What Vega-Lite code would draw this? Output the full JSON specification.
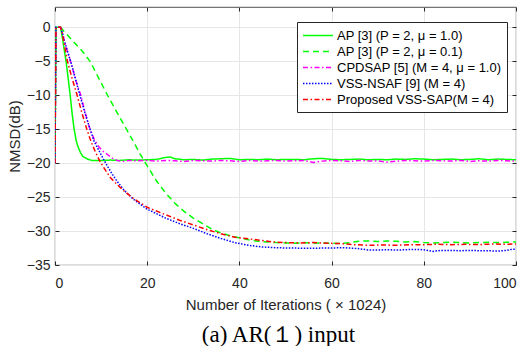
{
  "$schema": "https://vega.github.io/schema/vega-lite/v6.json",
  "width": 461,
  "height": 258,
  "autosize": {"type": "none"},
  "padding": {"left": 55, "top": 7, "right": 12, "bottom": 81},
  "config": {
    "view": {"stroke": "#262626", "strokeWidth": 0.8},
    "font": "Liberation Sans",
    "axis": {
      "labelFont": "Liberation Sans", "labelFontSize": 14, "labelColor": "#262626",
      "titleFont": "Liberation Sans", "titleFontSize": 15, "titleFontWeight": "normal", "titleColor": "#262626",
      "tickColor": "#262626", "domain": false, "gridColor": "#e6e6e6", "gridWidth": 1
    }
  },
  "title": {"text": "(a) AR(１) input", "orient": "bottom", "font": "Liberation Serif", "fontSize": 23, "fontWeight": "normal", "color": "black", "offset": 12, "dx": -7},
  "data": {"values": [
    {"s": "AP [3] (P = 2, μ = 1.0)", "x": 0, "y": -20},
    {"s": "AP [3] (P = 2, μ = 1.0)", "x": 0.2, "y": 0},
    {"s": "AP [3] (P = 2, μ = 1.0)", "x": 1.2, "y": 0},
    {"s": "AP [3] (P = 2, μ = 1.0)", "x": 1.6, "y": -1.5},
    {"s": "AP [3] (P = 2, μ = 1.0)", "x": 2, "y": -3.3},
    {"s": "AP [3] (P = 2, μ = 1.0)", "x": 2.4, "y": -5},
    {"s": "AP [3] (P = 2, μ = 1.0)", "x": 2.8, "y": -7.2},
    {"s": "AP [3] (P = 2, μ = 1.0)", "x": 3.3, "y": -10},
    {"s": "AP [3] (P = 2, μ = 1.0)", "x": 3.7, "y": -12.6},
    {"s": "AP [3] (P = 2, μ = 1.0)", "x": 4.15, "y": -15},
    {"s": "AP [3] (P = 2, μ = 1.0)", "x": 4.6, "y": -16.7},
    {"s": "AP [3] (P = 2, μ = 1.0)", "x": 5, "y": -17.6},
    {"s": "AP [3] (P = 2, μ = 1.0)", "x": 5.5, "y": -18.4},
    {"s": "AP [3] (P = 2, μ = 1.0)", "x": 6, "y": -19},
    {"s": "AP [3] (P = 2, μ = 1.0)", "x": 7, "y": -19.4},
    {"s": "AP [3] (P = 2, μ = 1.0)", "x": 8, "y": -19.6},
    {"s": "AP [3] (P = 2, μ = 1.0)", "x": 10, "y": -19.6},
    {"s": "AP [3] (P = 2, μ = 1.0)", "x": 12, "y": -19.55},
    {"s": "AP [3] (P = 2, μ = 1.0)", "x": 14, "y": -19.6},
    {"s": "AP [3] (P = 2, μ = 1.0)", "x": 16, "y": -19.5},
    {"s": "AP [3] (P = 2, μ = 1.0)", "x": 18, "y": -19.55},
    {"s": "AP [3] (P = 2, μ = 1.0)", "x": 20, "y": -19.5},
    {"s": "AP [3] (P = 2, μ = 1.0)", "x": 22, "y": -19.45},
    {"s": "AP [3] (P = 2, μ = 1.0)", "x": 24, "y": -19.15},
    {"s": "AP [3] (P = 2, μ = 1.0)", "x": 25, "y": -19.1},
    {"s": "AP [3] (P = 2, μ = 1.0)", "x": 26, "y": -19.35},
    {"s": "AP [3] (P = 2, μ = 1.0)", "x": 28, "y": -19.5},
    {"s": "AP [3] (P = 2, μ = 1.0)", "x": 30, "y": -19.45},
    {"s": "AP [3] (P = 2, μ = 1.0)", "x": 32, "y": -19.55},
    {"s": "AP [3] (P = 2, μ = 1.0)", "x": 34, "y": -19.4},
    {"s": "AP [3] (P = 2, μ = 1.0)", "x": 36, "y": -19.35},
    {"s": "AP [3] (P = 2, μ = 1.0)", "x": 38, "y": -19.3},
    {"s": "AP [3] (P = 2, μ = 1.0)", "x": 40, "y": -19.5},
    {"s": "AP [3] (P = 2, μ = 1.0)", "x": 42, "y": -19.45},
    {"s": "AP [3] (P = 2, μ = 1.0)", "x": 44, "y": -19.5},
    {"s": "AP [3] (P = 2, μ = 1.0)", "x": 46, "y": -19.4},
    {"s": "AP [3] (P = 2, μ = 1.0)", "x": 48, "y": -19.5},
    {"s": "AP [3] (P = 2, μ = 1.0)", "x": 50, "y": -19.45},
    {"s": "AP [3] (P = 2, μ = 1.0)", "x": 52, "y": -19.45},
    {"s": "AP [3] (P = 2, μ = 1.0)", "x": 54, "y": -19.5},
    {"s": "AP [3] (P = 2, μ = 1.0)", "x": 56, "y": -19.35},
    {"s": "AP [3] (P = 2, μ = 1.0)", "x": 58, "y": -19.3},
    {"s": "AP [3] (P = 2, μ = 1.0)", "x": 60, "y": -19.45},
    {"s": "AP [3] (P = 2, μ = 1.0)", "x": 62, "y": -19.5},
    {"s": "AP [3] (P = 2, μ = 1.0)", "x": 64, "y": -19.45},
    {"s": "AP [3] (P = 2, μ = 1.0)", "x": 66, "y": -19.4},
    {"s": "AP [3] (P = 2, μ = 1.0)", "x": 68, "y": -19.5},
    {"s": "AP [3] (P = 2, μ = 1.0)", "x": 70, "y": -19.45},
    {"s": "AP [3] (P = 2, μ = 1.0)", "x": 72, "y": -19.5},
    {"s": "AP [3] (P = 2, μ = 1.0)", "x": 74, "y": -19.4},
    {"s": "AP [3] (P = 2, μ = 1.0)", "x": 76, "y": -19.45},
    {"s": "AP [3] (P = 2, μ = 1.0)", "x": 78, "y": -19.35},
    {"s": "AP [3] (P = 2, μ = 1.0)", "x": 80, "y": -19.4},
    {"s": "AP [3] (P = 2, μ = 1.0)", "x": 82, "y": -19.5},
    {"s": "AP [3] (P = 2, μ = 1.0)", "x": 84, "y": -19.45},
    {"s": "AP [3] (P = 2, μ = 1.0)", "x": 86, "y": -19.4},
    {"s": "AP [3] (P = 2, μ = 1.0)", "x": 88, "y": -19.5},
    {"s": "AP [3] (P = 2, μ = 1.0)", "x": 90, "y": -19.45},
    {"s": "AP [3] (P = 2, μ = 1.0)", "x": 92, "y": -19.35},
    {"s": "AP [3] (P = 2, μ = 1.0)", "x": 94, "y": -19.5},
    {"s": "AP [3] (P = 2, μ = 1.0)", "x": 96, "y": -19.4},
    {"s": "AP [3] (P = 2, μ = 1.0)", "x": 98, "y": -19.45},
    {"s": "AP [3] (P = 2, μ = 1.0)", "x": 100, "y": -19.5},

    {"s": "AP [3] (P = 2, μ = 0.1)", "x": 0, "y": -20},
    {"s": "AP [3] (P = 2, μ = 0.1)", "x": 0.2, "y": 0},
    {"s": "AP [3] (P = 2, μ = 0.1)", "x": 1.2, "y": 0},
    {"s": "AP [3] (P = 2, μ = 0.1)", "x": 2, "y": -0.6},
    {"s": "AP [3] (P = 2, μ = 0.1)", "x": 4, "y": -2.1},
    {"s": "AP [3] (P = 2, μ = 0.1)", "x": 5.8, "y": -3.4},
    {"s": "AP [3] (P = 2, μ = 0.1)", "x": 7.6, "y": -5},
    {"s": "AP [3] (P = 2, μ = 0.1)", "x": 9.5, "y": -7.5},
    {"s": "AP [3] (P = 2, μ = 0.1)", "x": 11.4, "y": -10},
    {"s": "AP [3] (P = 2, μ = 0.1)", "x": 13.5, "y": -12.6},
    {"s": "AP [3] (P = 2, μ = 0.1)", "x": 15.5, "y": -15},
    {"s": "AP [3] (P = 2, μ = 0.1)", "x": 17, "y": -16.8},
    {"s": "AP [3] (P = 2, μ = 0.1)", "x": 18.5, "y": -18.7},
    {"s": "AP [3] (P = 2, μ = 0.1)", "x": 20, "y": -20.4},
    {"s": "AP [3] (P = 2, μ = 0.1)", "x": 22, "y": -22.6},
    {"s": "AP [3] (P = 2, μ = 0.1)", "x": 24, "y": -24.4},
    {"s": "AP [3] (P = 2, μ = 0.1)", "x": 26, "y": -25.9},
    {"s": "AP [3] (P = 2, μ = 0.1)", "x": 28, "y": -27.1},
    {"s": "AP [3] (P = 2, μ = 0.1)", "x": 30, "y": -28.1},
    {"s": "AP [3] (P = 2, μ = 0.1)", "x": 32, "y": -28.9},
    {"s": "AP [3] (P = 2, μ = 0.1)", "x": 34, "y": -29.7},
    {"s": "AP [3] (P = 2, μ = 0.1)", "x": 36, "y": -30.3},
    {"s": "AP [3] (P = 2, μ = 0.1)", "x": 38, "y": -30.7},
    {"s": "AP [3] (P = 2, μ = 0.1)", "x": 40, "y": -31.0},
    {"s": "AP [3] (P = 2, μ = 0.1)", "x": 42, "y": -31.3},
    {"s": "AP [3] (P = 2, μ = 0.1)", "x": 44, "y": -31.5},
    {"s": "AP [3] (P = 2, μ = 0.1)", "x": 46, "y": -31.6},
    {"s": "AP [3] (P = 2, μ = 0.1)", "x": 48, "y": -31.7},
    {"s": "AP [3] (P = 2, μ = 0.1)", "x": 50, "y": -31.75},
    {"s": "AP [3] (P = 2, μ = 0.1)", "x": 52, "y": -31.8},
    {"s": "AP [3] (P = 2, μ = 0.1)", "x": 54, "y": -31.7},
    {"s": "AP [3] (P = 2, μ = 0.1)", "x": 56, "y": -31.8},
    {"s": "AP [3] (P = 2, μ = 0.1)", "x": 58, "y": -31.75},
    {"s": "AP [3] (P = 2, μ = 0.1)", "x": 60, "y": -31.8},
    {"s": "AP [3] (P = 2, μ = 0.1)", "x": 62, "y": -31.85},
    {"s": "AP [3] (P = 2, μ = 0.1)", "x": 64, "y": -31.7},
    {"s": "AP [3] (P = 2, μ = 0.1)", "x": 66, "y": -31.5},
    {"s": "AP [3] (P = 2, μ = 0.1)", "x": 68, "y": -31.45},
    {"s": "AP [3] (P = 2, μ = 0.1)", "x": 70, "y": -31.55},
    {"s": "AP [3] (P = 2, μ = 0.1)", "x": 72, "y": -31.45},
    {"s": "AP [3] (P = 2, μ = 0.1)", "x": 74, "y": -31.5},
    {"s": "AP [3] (P = 2, μ = 0.1)", "x": 76, "y": -31.6},
    {"s": "AP [3] (P = 2, μ = 0.1)", "x": 78, "y": -31.55},
    {"s": "AP [3] (P = 2, μ = 0.1)", "x": 80, "y": -31.7},
    {"s": "AP [3] (P = 2, μ = 0.1)", "x": 82, "y": -31.75},
    {"s": "AP [3] (P = 2, μ = 0.1)", "x": 84, "y": -31.7},
    {"s": "AP [3] (P = 2, μ = 0.1)", "x": 86, "y": -31.65},
    {"s": "AP [3] (P = 2, μ = 0.1)", "x": 88, "y": -31.7},
    {"s": "AP [3] (P = 2, μ = 0.1)", "x": 90, "y": -31.75},
    {"s": "AP [3] (P = 2, μ = 0.1)", "x": 92, "y": -31.7},
    {"s": "AP [3] (P = 2, μ = 0.1)", "x": 94, "y": -31.65},
    {"s": "AP [3] (P = 2, μ = 0.1)", "x": 96, "y": -31.7},
    {"s": "AP [3] (P = 2, μ = 0.1)", "x": 98, "y": -31.65},
    {"s": "AP [3] (P = 2, μ = 0.1)", "x": 100, "y": -31.6},

    {"s": "CPDSAP [5] (M = 4, μ = 1.0)", "x": 0, "y": -20},
    {"s": "CPDSAP [5] (M = 4, μ = 1.0)", "x": 0.2, "y": 0},
    {"s": "CPDSAP [5] (M = 4, μ = 1.0)", "x": 1.2, "y": 0},
    {"s": "CPDSAP [5] (M = 4, μ = 1.0)", "x": 1.6, "y": -0.8},
    {"s": "CPDSAP [5] (M = 4, μ = 1.0)", "x": 2, "y": -1.9},
    {"s": "CPDSAP [5] (M = 4, μ = 1.0)", "x": 2.8, "y": -3.8},
    {"s": "CPDSAP [5] (M = 4, μ = 1.0)", "x": 3.6, "y": -5.5},
    {"s": "CPDSAP [5] (M = 4, μ = 1.0)", "x": 4.5, "y": -7.8},
    {"s": "CPDSAP [5] (M = 4, μ = 1.0)", "x": 5.6, "y": -10},
    {"s": "CPDSAP [5] (M = 4, μ = 1.0)", "x": 6.5, "y": -12.5},
    {"s": "CPDSAP [5] (M = 4, μ = 1.0)", "x": 7.5, "y": -14.8},
    {"s": "CPDSAP [5] (M = 4, μ = 1.0)", "x": 8.5, "y": -16.5},
    {"s": "CPDSAP [5] (M = 4, μ = 1.0)", "x": 9.5, "y": -17.6},
    {"s": "CPDSAP [5] (M = 4, μ = 1.0)", "x": 10.5, "y": -18.3},
    {"s": "CPDSAP [5] (M = 4, μ = 1.0)", "x": 11.5, "y": -18.8},
    {"s": "CPDSAP [5] (M = 4, μ = 1.0)", "x": 12.5, "y": -19.3},
    {"s": "CPDSAP [5] (M = 4, μ = 1.0)", "x": 13.5, "y": -19.6},
    {"s": "CPDSAP [5] (M = 4, μ = 1.0)", "x": 15, "y": -19.75},
    {"s": "CPDSAP [5] (M = 4, μ = 1.0)", "x": 16, "y": -19.6},
    {"s": "CPDSAP [5] (M = 4, μ = 1.0)", "x": 18, "y": -19.65},
    {"s": "CPDSAP [5] (M = 4, μ = 1.0)", "x": 20, "y": -19.6},
    {"s": "CPDSAP [5] (M = 4, μ = 1.0)", "x": 22, "y": -19.7},
    {"s": "CPDSAP [5] (M = 4, μ = 1.0)", "x": 24, "y": -19.6},
    {"s": "CPDSAP [5] (M = 4, μ = 1.0)", "x": 26, "y": -19.65},
    {"s": "CPDSAP [5] (M = 4, μ = 1.0)", "x": 28, "y": -19.75},
    {"s": "CPDSAP [5] (M = 4, μ = 1.0)", "x": 30, "y": -19.6},
    {"s": "CPDSAP [5] (M = 4, μ = 1.0)", "x": 32, "y": -19.65},
    {"s": "CPDSAP [5] (M = 4, μ = 1.0)", "x": 34, "y": -19.7},
    {"s": "CPDSAP [5] (M = 4, μ = 1.0)", "x": 36, "y": -19.6},
    {"s": "CPDSAP [5] (M = 4, μ = 1.0)", "x": 38, "y": -19.65},
    {"s": "CPDSAP [5] (M = 4, μ = 1.0)", "x": 40, "y": -19.75},
    {"s": "CPDSAP [5] (M = 4, μ = 1.0)", "x": 42, "y": -19.6},
    {"s": "CPDSAP [5] (M = 4, μ = 1.0)", "x": 44, "y": -19.7},
    {"s": "CPDSAP [5] (M = 4, μ = 1.0)", "x": 46, "y": -19.65},
    {"s": "CPDSAP [5] (M = 4, μ = 1.0)", "x": 48, "y": -19.6},
    {"s": "CPDSAP [5] (M = 4, μ = 1.0)", "x": 50, "y": -19.7},
    {"s": "CPDSAP [5] (M = 4, μ = 1.0)", "x": 52, "y": -19.65},
    {"s": "CPDSAP [5] (M = 4, μ = 1.0)", "x": 54, "y": -19.6},
    {"s": "CPDSAP [5] (M = 4, μ = 1.0)", "x": 56, "y": -19.9},
    {"s": "CPDSAP [5] (M = 4, μ = 1.0)", "x": 58, "y": -19.7},
    {"s": "CPDSAP [5] (M = 4, μ = 1.0)", "x": 60, "y": -19.6},
    {"s": "CPDSAP [5] (M = 4, μ = 1.0)", "x": 62, "y": -19.65},
    {"s": "CPDSAP [5] (M = 4, μ = 1.0)", "x": 64, "y": -19.75},
    {"s": "CPDSAP [5] (M = 4, μ = 1.0)", "x": 66, "y": -19.6},
    {"s": "CPDSAP [5] (M = 4, μ = 1.0)", "x": 68, "y": -19.7},
    {"s": "CPDSAP [5] (M = 4, μ = 1.0)", "x": 70, "y": -19.65},
    {"s": "CPDSAP [5] (M = 4, μ = 1.0)", "x": 72, "y": -19.85},
    {"s": "CPDSAP [5] (M = 4, μ = 1.0)", "x": 74, "y": -19.7},
    {"s": "CPDSAP [5] (M = 4, μ = 1.0)", "x": 76, "y": -19.6},
    {"s": "CPDSAP [5] (M = 4, μ = 1.0)", "x": 78, "y": -19.65},
    {"s": "CPDSAP [5] (M = 4, μ = 1.0)", "x": 80, "y": -19.7},
    {"s": "CPDSAP [5] (M = 4, μ = 1.0)", "x": 82, "y": -19.6},
    {"s": "CPDSAP [5] (M = 4, μ = 1.0)", "x": 84, "y": -19.65},
    {"s": "CPDSAP [5] (M = 4, μ = 1.0)", "x": 86, "y": -19.7},
    {"s": "CPDSAP [5] (M = 4, μ = 1.0)", "x": 88, "y": -19.6},
    {"s": "CPDSAP [5] (M = 4, μ = 1.0)", "x": 90, "y": -19.75},
    {"s": "CPDSAP [5] (M = 4, μ = 1.0)", "x": 92, "y": -19.65},
    {"s": "CPDSAP [5] (M = 4, μ = 1.0)", "x": 94, "y": -19.7},
    {"s": "CPDSAP [5] (M = 4, μ = 1.0)", "x": 96, "y": -19.6},
    {"s": "CPDSAP [5] (M = 4, μ = 1.0)", "x": 98, "y": -19.65},
    {"s": "CPDSAP [5] (M = 4, μ = 1.0)", "x": 100, "y": -19.7},

    {"s": "VSS-NSAF [9] (M = 4)", "x": 0, "y": -20},
    {"s": "VSS-NSAF [9] (M = 4)", "x": 0.2, "y": 0},
    {"s": "VSS-NSAF [9] (M = 4)", "x": 1.2, "y": 0},
    {"s": "VSS-NSAF [9] (M = 4)", "x": 1.6, "y": -0.8},
    {"s": "VSS-NSAF [9] (M = 4)", "x": 2, "y": -1.9},
    {"s": "VSS-NSAF [9] (M = 4)", "x": 2.7, "y": -3.5},
    {"s": "VSS-NSAF [9] (M = 4)", "x": 3.4, "y": -5},
    {"s": "VSS-NSAF [9] (M = 4)", "x": 4.4, "y": -7.5},
    {"s": "VSS-NSAF [9] (M = 4)", "x": 5.4, "y": -10},
    {"s": "VSS-NSAF [9] (M = 4)", "x": 6.5, "y": -12.6},
    {"s": "VSS-NSAF [9] (M = 4)", "x": 7.6, "y": -15},
    {"s": "VSS-NSAF [9] (M = 4)", "x": 8.5, "y": -16.8},
    {"s": "VSS-NSAF [9] (M = 4)", "x": 9.5, "y": -18.1},
    {"s": "VSS-NSAF [9] (M = 4)", "x": 10.5, "y": -19.4},
    {"s": "VSS-NSAF [9] (M = 4)", "x": 11.5, "y": -20.6},
    {"s": "VSS-NSAF [9] (M = 4)", "x": 12.5, "y": -21.7},
    {"s": "VSS-NSAF [9] (M = 4)", "x": 13.5, "y": -22.7},
    {"s": "VSS-NSAF [9] (M = 4)", "x": 15, "y": -24},
    {"s": "VSS-NSAF [9] (M = 4)", "x": 17, "y": -25.3},
    {"s": "VSS-NSAF [9] (M = 4)", "x": 20, "y": -26.8},
    {"s": "VSS-NSAF [9] (M = 4)", "x": 21, "y": -27.1},
    {"s": "VSS-NSAF [9] (M = 4)", "x": 24, "y": -28.1},
    {"s": "VSS-NSAF [9] (M = 4)", "x": 27, "y": -28.9},
    {"s": "VSS-NSAF [9] (M = 4)", "x": 30, "y": -29.6},
    {"s": "VSS-NSAF [9] (M = 4)", "x": 33, "y": -30.4},
    {"s": "VSS-NSAF [9] (M = 4)", "x": 36, "y": -31.1},
    {"s": "VSS-NSAF [9] (M = 4)", "x": 39, "y": -31.7},
    {"s": "VSS-NSAF [9] (M = 4)", "x": 42, "y": -32.1},
    {"s": "VSS-NSAF [9] (M = 4)", "x": 45, "y": -32.35},
    {"s": "VSS-NSAF [9] (M = 4)", "x": 48, "y": -32.45},
    {"s": "VSS-NSAF [9] (M = 4)", "x": 50, "y": -32.5},
    {"s": "VSS-NSAF [9] (M = 4)", "x": 52, "y": -32.5},
    {"s": "VSS-NSAF [9] (M = 4)", "x": 54, "y": -32.55},
    {"s": "VSS-NSAF [9] (M = 4)", "x": 56, "y": -32.55},
    {"s": "VSS-NSAF [9] (M = 4)", "x": 58, "y": -32.5},
    {"s": "VSS-NSAF [9] (M = 4)", "x": 60, "y": -32.5},
    {"s": "VSS-NSAF [9] (M = 4)", "x": 62, "y": -32.45},
    {"s": "VSS-NSAF [9] (M = 4)", "x": 64, "y": -32.5},
    {"s": "VSS-NSAF [9] (M = 4)", "x": 66, "y": -32.6},
    {"s": "VSS-NSAF [9] (M = 4)", "x": 68, "y": -32.8},
    {"s": "VSS-NSAF [9] (M = 4)", "x": 70, "y": -32.8},
    {"s": "VSS-NSAF [9] (M = 4)", "x": 72, "y": -32.75},
    {"s": "VSS-NSAF [9] (M = 4)", "x": 74, "y": -32.8},
    {"s": "VSS-NSAF [9] (M = 4)", "x": 76, "y": -32.75},
    {"s": "VSS-NSAF [9] (M = 4)", "x": 78, "y": -32.7},
    {"s": "VSS-NSAF [9] (M = 4)", "x": 80, "y": -32.75},
    {"s": "VSS-NSAF [9] (M = 4)", "x": 82, "y": -33.0},
    {"s": "VSS-NSAF [9] (M = 4)", "x": 83, "y": -32.9},
    {"s": "VSS-NSAF [9] (M = 4)", "x": 84, "y": -32.85},
    {"s": "VSS-NSAF [9] (M = 4)", "x": 86, "y": -32.85},
    {"s": "VSS-NSAF [9] (M = 4)", "x": 88, "y": -32.9},
    {"s": "VSS-NSAF [9] (M = 4)", "x": 90, "y": -32.85},
    {"s": "VSS-NSAF [9] (M = 4)", "x": 92, "y": -32.9},
    {"s": "VSS-NSAF [9] (M = 4)", "x": 94, "y": -32.9},
    {"s": "VSS-NSAF [9] (M = 4)", "x": 96, "y": -32.95},
    {"s": "VSS-NSAF [9] (M = 4)", "x": 98, "y": -32.85},
    {"s": "VSS-NSAF [9] (M = 4)", "x": 99, "y": -32.7},
    {"s": "VSS-NSAF [9] (M = 4)", "x": 100, "y": -32.65},

    {"s": "Proposed VSS-SAP(M = 4)", "x": 0, "y": -20},
    {"s": "Proposed VSS-SAP(M = 4)", "x": 0.2, "y": 0},
    {"s": "Proposed VSS-SAP(M = 4)", "x": 1.2, "y": 0},
    {"s": "Proposed VSS-SAP(M = 4)", "x": 1.6, "y": -0.9},
    {"s": "Proposed VSS-SAP(M = 4)", "x": 2, "y": -2.4},
    {"s": "Proposed VSS-SAP(M = 4)", "x": 2.7, "y": -5},
    {"s": "Proposed VSS-SAP(M = 4)", "x": 3.7, "y": -7.5},
    {"s": "Proposed VSS-SAP(M = 4)", "x": 4.8, "y": -10},
    {"s": "Proposed VSS-SAP(M = 4)", "x": 5.8, "y": -12.5},
    {"s": "Proposed VSS-SAP(M = 4)", "x": 6.9, "y": -15},
    {"s": "Proposed VSS-SAP(M = 4)", "x": 7.8, "y": -16.8},
    {"s": "Proposed VSS-SAP(M = 4)", "x": 8.8, "y": -18.4},
    {"s": "Proposed VSS-SAP(M = 4)", "x": 9.8, "y": -19.8},
    {"s": "Proposed VSS-SAP(M = 4)", "x": 11, "y": -21.1},
    {"s": "Proposed VSS-SAP(M = 4)", "x": 12, "y": -22.1},
    {"s": "Proposed VSS-SAP(M = 4)", "x": 13.4, "y": -23.1},
    {"s": "Proposed VSS-SAP(M = 4)", "x": 15, "y": -24.1},
    {"s": "Proposed VSS-SAP(M = 4)", "x": 17, "y": -25.2},
    {"s": "Proposed VSS-SAP(M = 4)", "x": 20, "y": -26.5},
    {"s": "Proposed VSS-SAP(M = 4)", "x": 24, "y": -27.6},
    {"s": "Proposed VSS-SAP(M = 4)", "x": 27, "y": -28.4},
    {"s": "Proposed VSS-SAP(M = 4)", "x": 30, "y": -29.1},
    {"s": "Proposed VSS-SAP(M = 4)", "x": 33, "y": -29.8},
    {"s": "Proposed VSS-SAP(M = 4)", "x": 36, "y": -30.4},
    {"s": "Proposed VSS-SAP(M = 4)", "x": 39, "y": -30.9},
    {"s": "Proposed VSS-SAP(M = 4)", "x": 42, "y": -31.15},
    {"s": "Proposed VSS-SAP(M = 4)", "x": 45, "y": -31.4},
    {"s": "Proposed VSS-SAP(M = 4)", "x": 47, "y": -31.6},
    {"s": "Proposed VSS-SAP(M = 4)", "x": 50, "y": -31.7},
    {"s": "Proposed VSS-SAP(M = 4)", "x": 53, "y": -31.75},
    {"s": "Proposed VSS-SAP(M = 4)", "x": 56, "y": -31.7},
    {"s": "Proposed VSS-SAP(M = 4)", "x": 59, "y": -31.8},
    {"s": "Proposed VSS-SAP(M = 4)", "x": 62, "y": -31.85},
    {"s": "Proposed VSS-SAP(M = 4)", "x": 65, "y": -32.0},
    {"s": "Proposed VSS-SAP(M = 4)", "x": 68, "y": -32.1},
    {"s": "Proposed VSS-SAP(M = 4)", "x": 71, "y": -32.05},
    {"s": "Proposed VSS-SAP(M = 4)", "x": 74, "y": -32.1},
    {"s": "Proposed VSS-SAP(M = 4)", "x": 77, "y": -32.0},
    {"s": "Proposed VSS-SAP(M = 4)", "x": 80, "y": -32.0},
    {"s": "Proposed VSS-SAP(M = 4)", "x": 83, "y": -31.95},
    {"s": "Proposed VSS-SAP(M = 4)", "x": 86, "y": -32.0},
    {"s": "Proposed VSS-SAP(M = 4)", "x": 89, "y": -31.95},
    {"s": "Proposed VSS-SAP(M = 4)", "x": 92, "y": -32.0},
    {"s": "Proposed VSS-SAP(M = 4)", "x": 95, "y": -31.9},
    {"s": "Proposed VSS-SAP(M = 4)", "x": 98, "y": -31.95},
    {"s": "Proposed VSS-SAP(M = 4)", "x": 100, "y": -31.9}
  ]},
  "layer": [
    {
      "mark": {"type": "line", "strokeWidth": 1.5, "clip": true},
      "encoding": {
        "x": {"field": "x", "type": "quantitative", "scale": {"domain": [0, 100], "nice": false},
          "axis": {"orient": "bottom", "values": [0, 20, 40, 60, 80, 100], "title": "Number of Iterations ( × 1024)", "tickSize": -4, "labelPadding": 15, "titlePadding": 7, "grid": true}},
        "y": {"field": "y", "type": "quantitative", "scale": {"domain": [-35, 3], "nice": false, "zero": false},
          "axis": {"orient": "left", "values": [-35, -30, -25, -20, -15, -10, -5, 0], "title": "NMSD(dB)", "tickSize": -4, "labelPadding": 9, "titlePadding": 4, "grid": true}},
        "color": {"field": "s", "type": "nominal",
          "scale": {"domain": ["AP [3] (P = 2, μ = 1.0)", "AP [3] (P = 2, μ = 0.1)", "CPDSAP [5] (M = 4, μ = 1.0)", "VSS-NSAF [9] (M = 4)", "Proposed VSS-SAP(M = 4)"],
                    "range": ["#00ff00", "#00ff00", "#ff00ff", "#0000ff", "#ff0000"]},
          "legend": {"orient": "none", "legendX": 242, "legendY": 15, "title": null, "symbolType": "M-1,0H3", "symbolSize": 225, "symbolStrokeWidth": 1.5,
            "labelFont": "Liberation Sans", "labelFontSize": 13, "labelColor": "black", "labelOffset": 18, "labelLimit": 300,
            "strokeColor": "#262626", "fillColor": "white", "padding": 5, "rowPadding": 0}},
        "strokeDash": {"field": "s", "type": "nominal",
          "scale": {"domain": ["AP [3] (P = 2, μ = 1.0)", "AP [3] (P = 2, μ = 0.1)", "CPDSAP [5] (M = 4, μ = 1.0)", "VSS-NSAF [9] (M = 4)", "Proposed VSS-SAP(M = 4)"],
                    "range": [[1, 0], [6, 4], [5, 2.5, 1.5, 2.5], [1.5, 1.5], [5, 2.5, 1.5, 2.5]]},
          "legend": {"orient": "none", "legendX": 242, "legendY": 15, "title": null}}
      }
    },
    {
      "mark": {"type": "line", "opacity": 0},
      "encoding": {
        "x": {"field": "x", "type": "quantitative",
          "axis": {"orient": "top", "values": [0, 20, 40, 60, 80, 100], "labels": false, "title": null, "tickSize": -4, "grid": false}},
        "y": {"field": "y", "type": "quantitative",
          "axis": {"orient": "right", "values": [-35, -30, -25, -20, -15, -10, -5, 0], "labels": false, "title": null, "tickSize": -4, "grid": false}}
      }
    }
  ],
  "resolve": {"axis": {"x": "independent", "y": "independent"}}
}
